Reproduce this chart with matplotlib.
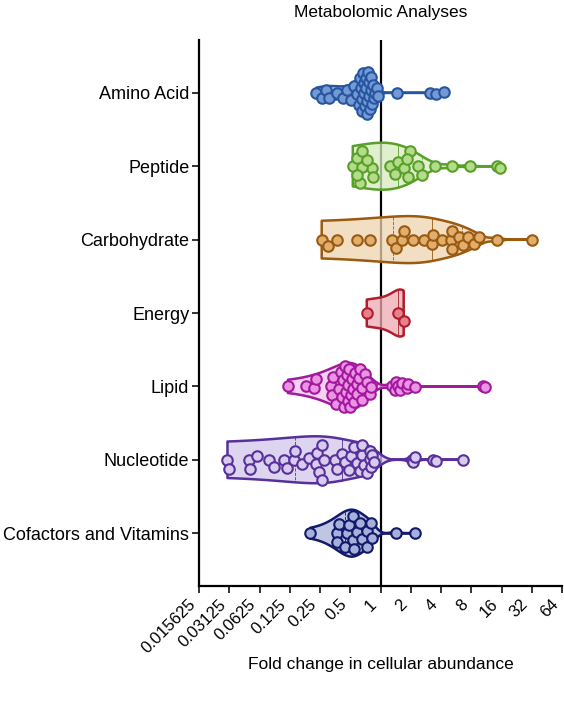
import matplotlib
import numpy as np

matplotlib.use('Agg')
import matplotlib.pyplot as plt  # noqa: E402
from matplotlib.transforms import ScaledTranslation  # noqa: E402

plt.rcParams['font.family'] = ['Liberation Sans', 'DejaVu Sans']

CATEGORIES = ['Amino Acid', 'Peptide', 'Carbohydrate', 'Energy', 'Lipid',
              'Nucleotide', 'Cofactors and Vitamins']

# fold change values
AMINO_ACID = [0.23, 0.26, 0.29, 0.31, 0.37, 0.42, 0.46, 0.51, 0.55,
              0.59, 0.61, 0.62, 0.64, 0.65, 0.66, 0.67, 0.68, 0.69, 0.70,
              0.71, 0.72, 0.73, 0.74, 0.75, 0.76, 0.77, 0.78, 0.80, 0.81,
              0.83, 0.85, 0.87, 0.89, 0.92, 0.95,
              1.45, 3.1, 3.6, 4.3]
PEPTIDE = [0.53, 0.62, 0.83, 0.65, 0.59, 0.74, 0.66, 0.58, 0.84,
           1.23, 1.38, 1.48, 1.73, 1.86, 1.95, 1.82, 2.34, 2.56, 3.45,
           5.1, 7.7, 14.3, 15.3]
CARBOHYDRATE = [0.26, 0.30, 0.37, 0.59, 0.78, 1.29, 1.44, 1.62, 1.70,
                2.13, 2.68, 3.22, 3.30, 4.06, 4.98, 5.10, 5.20, 6.0, 6.57,
                7.37, 8.45, 9.5, 14.3, 32.0]
ENERGY = [0.73, 1.51, 1.70]
LIPID = [0.12, 0.18, 0.22, 0.23, 0.32, 0.33, 0.34, 0.36, 0.39, 0.40,
         0.41, 0.42, 0.43, 0.44, 0.45, 0.46, 0.47, 0.48, 0.49, 0.50,
         0.51, 0.52, 0.53, 0.55, 0.56, 0.58, 0.59, 0.61, 0.62, 0.65,
         0.66, 0.70, 0.73, 0.78, 0.81,
         1.29, 1.38, 1.42, 1.48, 1.55, 1.62, 1.82, 1.86, 2.18, 10.4, 10.9]
NUCLEOTIDE = [0.030, 0.031, 0.049, 0.050, 0.059, 0.078, 0.088, 0.11,
              0.118, 0.139, 0.14, 0.167, 0.196, 0.23, 0.235, 0.247, 0.26,
              0.264, 0.277, 0.35, 0.37, 0.41, 0.44, 0.49, 0.51, 0.55,
              0.58, 0.62, 0.65, 0.66, 0.69, 0.73, 0.78, 0.79, 0.81, 0.83,
              0.87, 2.08, 2.1, 2.18, 3.3, 3.6, 6.57]
COFACTORS = [0.20, 0.37, 0.37, 0.39, 0.44, 0.46, 0.49, 0.53, 0.53, 0.59,
             0.62, 0.55, 0.66, 0.73, 0.74, 0.81, 0.83, 1.44, 2.18]
GROUPS = [AMINO_ACID, PEPTIDE, CARBOHYDRATE, ENERGY, LIPID, NUCLEOTIDE,
          COFACTORS]

EDGE_COLORS = ['#2756a0', '#58a02a', '#9a5a10', '#b01e2e', '#a3199e',
               '#58309c', '#13196b']
FACE_COLORS = ['#7499d5', '#b4dc8a', '#e2ae6e', '#e8808c', '#ec94e4',
               '#d7cced', '#a6b0da']
FILL_COLORS = ['#9db8e3', '#d6ecbe', '#eed3ae', '#eeaab2', '#f2c3ee',
               '#d2c6ea', '#a9b3da']

TICK_VALUES = [0.015625, 0.03125, 0.0625, 0.125, 0.25, 0.5, 1, 2, 4, 8,
               16, 32, 64]
TICK_LABELS = ['0.015625', '0.03125', '0.0625', '0.125', '0.25', '0.5',
               '1', '2', '4', '8', '16', '32', '64']

W, H, DPI = 564, 701, 100
AX_L, AX_R, AX_T, AX_B = 199, 562, 40, 586
YLIM = (6.72, -0.72)
PX_X = (AX_R - AX_L) / 12.0              # pixels per log2 unit
PX_Y = (AX_B - AX_T) / (YLIM[0] - YLIM[1])  # pixels per category
HALF_W = 0.32                            # max violin half width (categories)
DOT_PX = 10.5                            # marker diameter in pixels


def kde(vals, grid):
    # gaussian kernel on the raw values, Silverman bandwidth
    q1, q3 = np.percentile(vals, [25, 75], method='weibull')
    spread = min(np.std(vals, ddof=1), (q3 - q1) / 1.34)
    bw = 0.9 * spread * len(vals) ** (-0.2)
    d = np.exp(-0.5 * ((grid[:, None] - vals[None, :]) / bw) ** 2).sum(1)
    return d / d.max()


def swarm(xpx, cap_px, gap):
    offs = np.zeros(len(xpx))
    placed = []
    for i in np.argsort(xpx):
        steps = np.arange(0, max(cap_px[i], 0) + 0.01, 0.5)
        cands = np.ravel(np.column_stack([steps, -steps]))[1:]
        best, best_d = 0.0, -1.0
        for c in cands:
            if placed:
                j = np.array(placed)
                d = np.sqrt((xpx[i] - xpx[j]) ** 2 + (c - offs[j]) ** 2).min()
            else:
                d = np.inf
            if d >= gap:
                best = c
                break
            if d > best_d:
                best, best_d = c, d
        offs[i] = best
        placed.append(i)
    return offs


fig = plt.figure(figsize=(W / DPI, H / DPI), dpi=DPI)
ax = fig.add_axes([AX_L / W, 1 - AX_B / H, (AX_R - AX_L) / W,
                   (AX_B - AX_T) / H])
ax.set_xscale('log', base=2)
ax.set_xlim(2.0 ** -6, 2.0 ** 6)
ax.set_ylim(*YLIM)

ax.axvline(1, color='black', lw=1.6, zorder=1)

for k, vals in enumerate(GROUPS):
    v = np.array(vals, dtype=float)
    grid = np.exp(np.linspace(np.log(v.min()), np.log(v.max()), 400))
    w = HALF_W * kde(v, grid)
    px = np.concatenate([grid, grid[::-1]])
    py = np.concatenate([k - w, (k + w)[::-1]])
    ax.fill(px, py, facecolor=FILL_COLORS[k], alpha=0.75,
            edgecolor='none', zorder=2)
    ax.fill(px, py, facecolor='none', edgecolor=EDGE_COLORS[k],
            lw=1.8, joinstyle='round', zorder=3)
    quarts = np.percentile(v, [25, 50, 75], method='weibull')
    for qv, ls in zip(quarts, ['--', '-', '--']):
        qw = np.interp(qv, grid, w)
        ax.plot([qv, qv], [k - qw, k + qw], color=EDGE_COLORS[k],
                lw=0.6, ls=ls, zorder=3)
    xpx = np.log2(v) * PX_X
    cap = np.interp(v, grid, w) * PX_Y * 0.9
    yoff = swarm(xpx, cap, DOT_PX * 0.85) / PX_Y
    ax.scatter(v, k + yoff, s=(DOT_PX * 72 / DPI) ** 2,
               facecolor=FACE_COLORS[k], edgecolor=EDGE_COLORS[k],
               linewidths=1.5, zorder=4)

ax.set_yticks(range(len(CATEGORIES)))
ax.set_yticklabels(CATEGORIES, fontsize=13)
ax.set_xticks(TICK_VALUES)
ax.set_xticklabels([])
# rotated tick labels, ending just left of each tick
lab_tr = ax.get_xaxis_transform() + ScaledTranslation(
    -6 / DPI, -16 / DPI, fig.dpi_scale_trans)
for val, lab in zip(TICK_VALUES, TICK_LABELS):
    ax.text(val, 0, lab, transform=lab_tr, fontsize=12, rotation=45,
            ha='right', va='center', rotation_mode='anchor')
ax.minorticks_off()
ax.tick_params(axis='both', length=5, width=1.4, color='#333333')
ax.tick_params(axis='y', pad=2)
for side in ['top', 'right']:
    ax.spines[side].set_visible(False)
for side in ['left', 'bottom']:
    ax.spines[side].set_linewidth(1.6)

fig.text((AX_L + AX_R) / 2 / W, 1 - 12 / H, 'Metabolomic Analyses',
         ha='center', va='center', fontsize=12.5)
fig.text((AX_L + AX_R) / 2 / W, 1 - 664 / H,
         'Fold change in cellular abundance', ha='center', va='center',
         fontsize=12.5)

fig.savefig('out.png', dpi=DPI)
